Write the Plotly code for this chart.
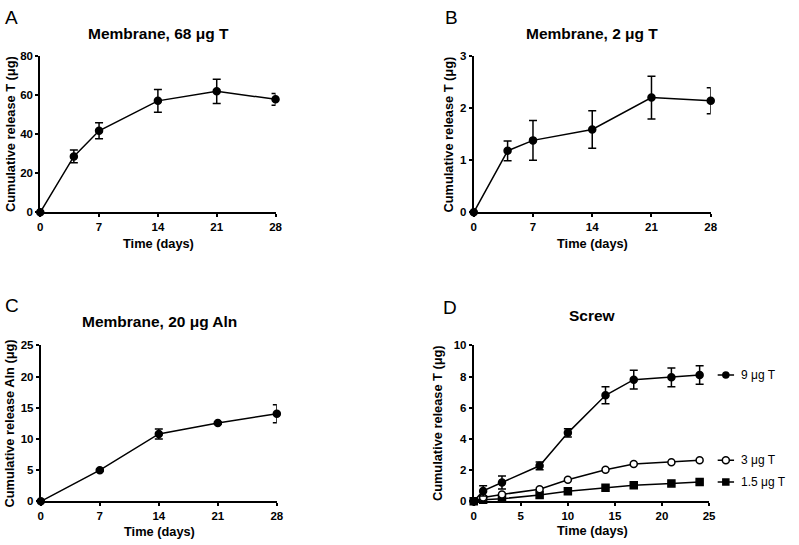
import plotly.graph_objects as go

# ---------------- data ----------------
A_days = [0, 4, 7, 14, 21, 28]
A_vals = [0, 28.6, 41.7, 57.0, 61.9, 57.8]
A_err = [0, 3.3, 4.1, 5.8, 6.2, 3.0]

B_days = [0, 4, 7, 14, 21, 28]
B_vals = [0, 1.18, 1.38, 1.59, 2.20, 2.14]
B_err = [0, 0.19, 0.38, 0.36, 0.41, 0.25]

C_days = [0, 7, 14, 21, 28]
C_vals = [0, 5.0, 10.8, 12.55, 14.05]
C_err = [0, 0.15, 0.8, 0.15, 1.45]

D_days = [0, 1, 3, 7, 10, 14, 17, 21, 24]
D_9 = [0, 0.67, 1.21, 2.28, 4.39, 6.80, 7.80, 7.95, 8.10]
D_9_err = [0, 0.33, 0.42, 0.25, 0.26, 0.55, 0.60, 0.60, 0.60]
D_3 = [0, 0.25, 0.44, 0.78, 1.38, 2.02, 2.39, 2.51, 2.63]
D_15 = [0, 0.10, 0.17, 0.40, 0.65, 0.87, 1.03, 1.15, 1.24]

A_xticks = [0, 7, 14, 21, 28]
A_yticks = [0, 20, 40, 60, 80]
B_yticks = [0, 1, 2, 3]
C_yticks = [0, 5, 10, 15, 20, 25]
D_xticks = [0, 5, 10, 15, 20, 25]
D_yticks = [0, 2, 4, 6, 8, 10]

D_names = ["9 μg T", "3 μg T", "1.5 μg T"]

FONT = "Liberation Sans, Arial, sans-serif"
W, H = 799, 545

fig = go.Figure()


def err_trace(x, y, e, xa, ya, symbol="circle", fill="black"):
    return go.Scatter(
        x=x, y=y, xaxis=xa, yaxis=ya, mode="lines+markers",
        line=dict(color="black", width=1.5),
        marker=dict(symbol=symbol, size=7, color=fill, line=dict(color="black", width=1.5)),
        error_y=dict(type="data", array=e, color="black",
                     thickness=1.5, width=4) if e is not None else None,
        cliponaxis=False, showlegend=False,
    )


fig.add_trace(err_trace(A_days, A_vals, A_err, "x", "y"))
fig.add_trace(err_trace(B_days, B_vals, B_err, "x2", "y2"))
fig.add_trace(err_trace(C_days, C_vals, C_err, "x3", "y3"))
fig.add_trace(err_trace(D_days, D_15, None, "x4", "y4", symbol="square"))
fig.add_trace(err_trace(D_days, D_3, None, "x4", "y4", symbol="circle", fill="white"))
fig.add_trace(err_trace(D_days, D_9, D_9_err, "x4", "y4"))

# legend glyphs for panel D, placed at the final value of each series
leg_series = [(D_9, "circle", "black", 6), (D_3, "circle", "white", 7), (D_15, "square", "black", 6)]
for (vals, sym, fill, sz), name in zip(leg_series, D_names):
    yv = vals[-1]
    fig.add_trace(go.Scatter(
        x=[0, 0.5, 1], y=[yv, yv, yv], xaxis="x5", yaxis="y4", mode="lines",
        line=dict(color="black", width=1.5), cliponaxis=False, showlegend=False,
        hoverinfo="skip"))
    fig.add_trace(go.Scatter(
        x=[0.5], y=[yv], xaxis="x5", yaxis="y4", mode="markers",
        marker=dict(symbol=sym, size=sz, color=fill, line=dict(color="black", width=1.5)),
        cliponaxis=False, showlegend=False, hoverinfo="skip"))
    fig.add_annotation(x=745 / W, xref="paper", y=yv, yref="y4", text=name,
                       showarrow=False, xanchor="left", yanchor="middle",
                       font=dict(family=FONT, size=12, color="black"))


def axis(dom, rng, ticks, anchor):
    return dict(domain=dom, range=rng, tickvals=ticks, anchor=anchor,
                showline=True, linecolor="black", linewidth=2, ticks="outside",
                ticklen=3, tickwidth=2, tickcolor="black", showgrid=False, zeroline=False,
                tickfont=dict(family=FONT, size=11.5, color="black", weight="bold"))


xA = [37.7 / W, 276 / W]
xB = [476.7 / W, 716.7 / W]
xC = [38.3 / W, 277.3 / W]
xD = [476.7 / W, 715 / W]
yTop = [1 - 211 / H, 1 - 51 / H]
yBot = [1 - 506.5 / H, 1 - 347 / H]

fig.update_layout(
    width=W, height=H, margin=dict(l=0, r=0, t=0, b=0),
    paper_bgcolor="white", plot_bgcolor="white",
    xaxis=axis(xA, [0, 28], A_xticks, "y"),
    yaxis=axis(yTop, [0, 80], A_yticks, "x"),
    xaxis2=axis(xB, [0, 28], A_xticks, "y2"),
    yaxis2=axis(yTop, [0, 3], B_yticks, "x2"),
    xaxis3=axis(xC, [0, 28], A_xticks, "y3"),
    yaxis3=axis(yBot, [0, 25], C_yticks, "x3"),
    xaxis4=axis(xD, [0, 25], D_xticks, "y4"),
    yaxis4=axis(yBot, [0, 10], D_yticks, "x4"),
    xaxis5=dict(domain=[723.5 / W, 740.5 / W], range=[0, 1], anchor="y4", visible=False),
)

# titles, axis titles, panel letters
bold = dict(family=FONT, size=15.5, color="black", weight="bold")
axf = dict(family=FONT, size=12.8, color="black", weight="bold")
letf = dict(family=FONT, size=19, color="black")


def ann(x, y, text, font, angle=0):
    fig.add_annotation(x=x / W, y=1 - y / H, xref="paper", yref="paper", text=text,
                       showarrow=False, xanchor="center", yanchor="middle",
                       font=font, textangle=angle)


ann(157, 28, "Membrane, 68 μg T", bold)
ann(596, 28, "Membrane, 2 μg T", bold)
ann(158, 323, "Membrane, 20 μg Aln", bold)
ann(597, 316, "Screw", bold)

ann(157, 243, "Time (days)", axf)
ann(597, 243, "Time (days)", axf)
ann(158, 537, "Time (days)", axf)
ann(597, 536, "Time (days)", axf)

ann(7, 131, "Cumulative release T (μg)", axf, -90)
ann(451, 131, "Cumulative release T (μg)", axf, -90)
ann(7, 427, "Cumulative release Aln (μg)", axf, -90)
ann(440, 426, "Cumulative release T (μg)", axf, -90)

ann(9, 12, "A", letf)
ann(454, 12, "B", letf)
ann(9, 306, "C", letf)
ann(453, 308, "D", letf)

fig.write_html("out.html", post_script="document.body.style.margin='0px';",
               config={"displayModeBar": False})
